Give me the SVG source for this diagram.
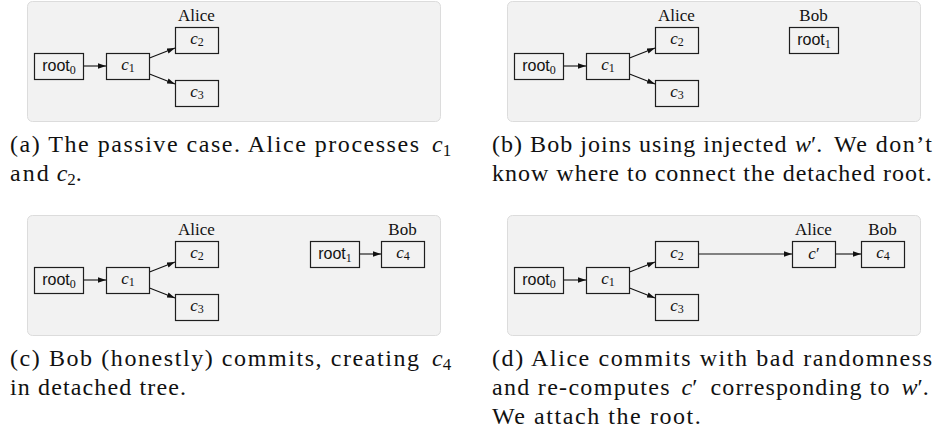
<svg xmlns="http://www.w3.org/2000/svg" width="936" height="440" viewBox="0 0 936 440">
<style>
.bg{fill:#ffffff}
.panel{fill:#f2f2f2;stroke:#dcdcdc;stroke-width:1}
.box{fill:#f2f2f2;stroke:#1e1e1e;stroke-width:1.2}
.lbl{font-family:"Liberation Serif",serif;font-size:17px;fill:#111;text-anchor:middle}
.nt{font-family:"Liberation Serif",serif;font-size:17px;fill:#111;text-anchor:middle}
.mi{font-style:italic}
.sf{font-family:"Liberation Sans",sans-serif;font-size:16px}
.sub{font-size:12px}
.cap{font-family:"Liberation Serif",serif;font-size:24px;fill:#111}
.csub{font-size:17px}
.edge{stroke:#111;stroke-width:1.1;fill:none;marker-end:url(#ah)}
</style>
<defs>
<marker id="ah" markerUnits="userSpaceOnUse" markerWidth="9" markerHeight="6" refX="8" refY="2.75" orient="auto">
<path d="M0,0 L8,2.75 L0,5.5 Z" fill="#111"/>
</marker>
</defs>
<rect class="bg" x="0" y="0" width="936" height="440"/>

<g id="panel-a">
<rect class="panel" x="27.5" y="1.5" width="413" height="120" rx="5"/>
<text class="lbl" x="196.5" y="21">Alice</text>
</g>
<g id="panel-b">
<rect class="panel" x="507.5" y="1.5" width="413" height="120" rx="5"/>
<text class="lbl" x="676.5" y="21">Alice</text>
<text class="lbl" x="813.5" y="21">Bob</text>
</g>
<g id="panel-c">
<rect class="panel" x="27.5" y="215.5" width="413" height="120" rx="5"/>
<text class="lbl" x="196.5" y="235">Alice</text>
<text class="lbl" x="402.5" y="235">Bob</text>
</g>
<g id="panel-d">
<rect class="panel" x="507.5" y="215.5" width="413" height="120" rx="5"/>
<text class="lbl" x="813.5" y="235">Alice</text>
<text class="lbl" x="882.5" y="235">Bob</text>
</g>

<g id="connectors">
<path class="edge" d="M83.5,66 H106"/>
<path class="edge" d="M149.5,57.9 L175,48.1"/>
<path class="edge" d="M149.5,74.1 L175,83.9"/>
<path class="edge" d="M563.5,66 H586"/>
<path class="edge" d="M629.5,57.9 L655,48.1"/>
<path class="edge" d="M629.5,74.1 L655,83.9"/>
<path class="edge" d="M83.5,280 H106"/>
<path class="edge" d="M149.5,271.9 L175,262.1"/>
<path class="edge" d="M149.5,288.1 L175,297.9"/>
<path class="edge" d="M359.5,254 H381"/>
<path class="edge" d="M563.5,280 H586"/>
<path class="edge" d="M629.5,271.9 L655,262.1"/>
<path class="edge" d="M629.5,288.1 L655,297.9"/>
<path class="edge" d="M698.5,254 H792"/>
<path class="edge" d="M835.5,254 H861"/>
</g>

<!-- panel a nodes -->
<g id="a-root0"><rect class="box" x="34.5" y="53.5" width="49" height="26"/><text class="nt" x="59" y="71"><tspan class="sf">root</tspan><tspan class="sub" dy="3">0</tspan></text></g>
<g id="a-c1"><rect class="box" x="106.5" y="53.5" width="43" height="26"/><text class="nt" x="128" y="69.5"><tspan class="mi">c</tspan><tspan class="sub" dy="2.5">1</tspan></text></g>
<g id="a-c2"><rect class="box" x="175.5" y="27.5" width="43" height="26"/><text class="nt" x="197" y="43.5"><tspan class="mi">c</tspan><tspan class="sub" dy="2.5">2</tspan></text></g>
<g id="a-c3"><rect class="box" x="175.5" y="80.5" width="43" height="26"/><text class="nt" x="197" y="96.5"><tspan class="mi">c</tspan><tspan class="sub" dy="2.5">3</tspan></text></g>

<!-- panel b nodes -->
<g id="b-root0"><rect class="box" x="514.5" y="53.5" width="49" height="26"/><text class="nt" x="539" y="71"><tspan class="sf">root</tspan><tspan class="sub" dy="3">0</tspan></text></g>
<g id="b-c1"><rect class="box" x="586.5" y="53.5" width="43" height="26"/><text class="nt" x="608" y="69.5"><tspan class="mi">c</tspan><tspan class="sub" dy="2.5">1</tspan></text></g>
<g id="b-c2"><rect class="box" x="655.5" y="27.5" width="43" height="26"/><text class="nt" x="677" y="43.5"><tspan class="mi">c</tspan><tspan class="sub" dy="2.5">2</tspan></text></g>
<g id="b-c3"><rect class="box" x="655.5" y="80.5" width="43" height="26"/><text class="nt" x="677" y="96.5"><tspan class="mi">c</tspan><tspan class="sub" dy="2.5">3</tspan></text></g>
<g id="b-root1"><rect class="box" x="789.5" y="27.5" width="49" height="26"/><text class="nt" x="814" y="45"><tspan class="sf">root</tspan><tspan class="sub" dy="3">1</tspan></text></g>

<!-- panel c nodes -->
<g id="c-root0"><rect class="box" x="34.5" y="267.5" width="49" height="26"/><text class="nt" x="59" y="285"><tspan class="sf">root</tspan><tspan class="sub" dy="3">0</tspan></text></g>
<g id="c-c1"><rect class="box" x="106.5" y="267.5" width="43" height="26"/><text class="nt" x="128" y="283.5"><tspan class="mi">c</tspan><tspan class="sub" dy="2.5">1</tspan></text></g>
<g id="c-c2"><rect class="box" x="175.5" y="241.5" width="43" height="26"/><text class="nt" x="197" y="257.5"><tspan class="mi">c</tspan><tspan class="sub" dy="2.5">2</tspan></text></g>
<g id="c-c3"><rect class="box" x="175.5" y="294.5" width="43" height="26"/><text class="nt" x="197" y="310.5"><tspan class="mi">c</tspan><tspan class="sub" dy="2.5">3</tspan></text></g>
<g id="c-root1"><rect class="box" x="310.5" y="241.5" width="49" height="26"/><text class="nt" x="335" y="259"><tspan class="sf">root</tspan><tspan class="sub" dy="3">1</tspan></text></g>
<g id="c-c4"><rect class="box" x="381.5" y="241.5" width="43" height="26"/><text class="nt" x="403" y="257.5"><tspan class="mi">c</tspan><tspan class="sub" dy="2.5">4</tspan></text></g>

<!-- panel d nodes -->
<g id="d-root0"><rect class="box" x="514.5" y="267.5" width="49" height="26"/><text class="nt" x="539" y="285"><tspan class="sf">root</tspan><tspan class="sub" dy="3">0</tspan></text></g>
<g id="d-c1"><rect class="box" x="586.5" y="267.5" width="43" height="26"/><text class="nt" x="608" y="283.5"><tspan class="mi">c</tspan><tspan class="sub" dy="2.5">1</tspan></text></g>
<g id="d-c2"><rect class="box" x="655.5" y="241.5" width="43" height="26"/><text class="nt" x="677" y="257.5"><tspan class="mi">c</tspan><tspan class="sub" dy="2.5">2</tspan></text></g>
<g id="d-c3"><rect class="box" x="655.5" y="294.5" width="43" height="26"/><text class="nt" x="677" y="310.5"><tspan class="mi">c</tspan><tspan class="sub" dy="2.5">3</tspan></text></g>
<g id="d-cprime"><rect class="box" x="792.5" y="241.5" width="43" height="26"/><text class="nt" x="814" y="259"><tspan class="mi">c</tspan><tspan>′</tspan></text></g>
<g id="d-c4"><rect class="box" x="861.5" y="241.5" width="43" height="26"/><text class="nt" x="883" y="257.5"><tspan class="mi">c</tspan><tspan class="sub" dy="2.5">4</tspan></text></g>

<!-- captions -->
<g id="caption-a">
<text class="cap" x="10" y="152" textLength="409" lengthAdjust="spacing">(a) The passive case. Alice processes</text>
<text class="cap" x="432" y="152"><tspan class="mi">c</tspan><tspan class="csub" dy="3.6">1</tspan></text>
<text class="cap" x="10" y="181" textLength="38.7" lengthAdjust="spacing">and</text>
<text class="cap" x="56.7" y="181"><tspan class="mi">c</tspan><tspan class="csub" dy="3.6">2</tspan><tspan dy="-3.6">.</tspan></text>
</g>
<g id="caption-b">
<text class="cap" x="492" y="152" textLength="294.4" lengthAdjust="spacing">(b) Bob joins using injected</text>
<text class="cap" x="795" y="152"><tspan class="mi">w</tspan><tspan>′.</tspan></text>
<text class="cap" x="834" y="152" textLength="98" lengthAdjust="spacing">We don’t</text>
<text class="cap" x="492" y="181" textLength="439.7" lengthAdjust="spacing">know where to connect the detached root.</text>
</g>
<g id="caption-c">
<text class="cap" x="10" y="366" textLength="409" lengthAdjust="spacing">(c) Bob (honestly) commits, creating</text>
<text class="cap" x="432" y="366"><tspan class="mi">c</tspan><tspan class="csub" dy="3.6">4</tspan></text>
<text class="cap" x="10" y="395" textLength="176" lengthAdjust="spacing">in detached tree.</text>
</g>
<g id="caption-d">
<text class="cap" x="492" y="366" textLength="440" lengthAdjust="spacing">(d) Alice commits with bad randomness</text>
<text class="cap" x="492" y="395" textLength="177.5" lengthAdjust="spacing">and re-computes</text>
<text class="cap" x="681.5" y="395"><tspan class="mi">c</tspan><tspan>′</tspan></text>
<text class="cap" x="710.5" y="395" textLength="179" lengthAdjust="spacing">corresponding to</text>
<text class="cap" x="901.5" y="395"><tspan class="mi">w</tspan><tspan>′.</tspan></text>
<text class="cap" x="492" y="424" textLength="208.8" lengthAdjust="spacing">We attach the root.</text>
</g>
</svg>
